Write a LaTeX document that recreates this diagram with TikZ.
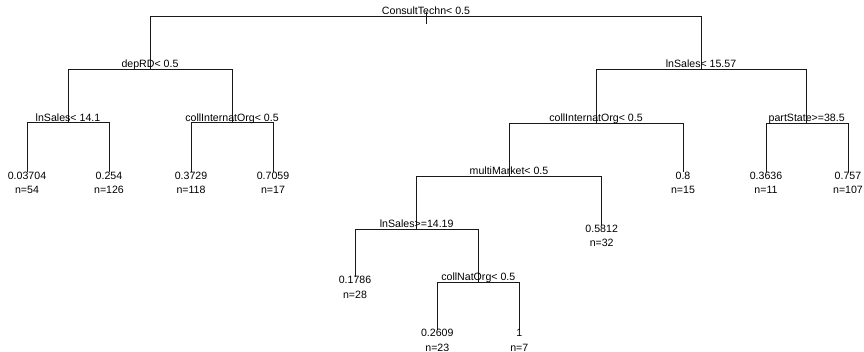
\documentclass[tikz,border=0pt]{standalone}
\usepackage{fontspec}
\setmainfont{Liberation Sans}
\usepackage{tikz}
\usetikzlibrary{positioning}

\begin{document}
\begin{tikzpicture}[
  x=1pt,y=-1pt,
  txt/.style={font=\fontsize{10.6}{12}\selectfont,inner sep=0pt,anchor=base},
  split/.style={txt,yshift=1.6pt},
  val/.style={txt,yshift=-7pt},
  cnt/.style={txt,yshift=-21.5pt},
  br/.style={line width=0.75pt,draw=black!90}
]
\useasboundingbox (0,0) rectangle (864,352);
% split points
\coordinate (root) at (426,16);
\coordinate (rtop) at (426,12.5); \coordinate (rbot) at (426,24);
\coordinate (dep) at (150,69);
\coordinate (ls1557) at (701,69);
\coordinate (ls141) at (68,122.7);
\coordinate (cioL) at (232,122.7);
\coordinate (cioR) at (596,123);
\coordinate (ps) at (806.7,123);
\coordinate (mm) at (509,176);
\coordinate (ls1419) at (416.7,229);
\coordinate (cno) at (478.3,282.5);
% leaves
\coordinate (lfA) at (27,172.5);  \coordinate (lfB) at (109,172.5);
\coordinate (lfC) at (191,172.5); \coordinate (lfD) at (273,172.5);
\coordinate (lfE) at (683,172.5); \coordinate (lfF) at (766,172.5);
\coordinate (lfG) at (848,172.5);
\coordinate (lfH) at (601.7,225.5);
\coordinate (lfI) at (355,277);
\coordinate (lfJ) at (437.3,330); \coordinate (lfK) at (519.3,330);
% branches
\draw[br] (rtop)--(rbot);
\draw[br] (root)-|(dep); \draw[br] (root)-|(ls1557);
\draw[br] (dep)-|(ls141); \draw[br] (dep)-|(cioL);
\draw[br] (ls141)-|(lfA); \draw[br] (ls141)-|(lfB);
\draw[br] (cioL)-|(lfC); \draw[br] (cioL)-|(lfD);
\draw[br] (ls1557)-|(cioR); \draw[br] (ls1557)-|(ps);
\draw[br] (cioR)-|(mm); \draw[br] (cioR)-|(lfE);
\draw[br] (ps)-|(lfF); \draw[br] (ps)-|(lfG);
\draw[br] (mm)-|(ls1419); \draw[br] (mm)-|(lfH);
\draw[br] (ls1419)-|(lfI); \draw[br] (ls1419)-|(cno);
\draw[br] (cno)-|(lfJ); \draw[br] (cno)-|(lfK);
% split labels
\node[split] (troot) at (root) {ConsultTechn< 0.5};
\node[split] (tdep) at (dep) {depRD< 0.5};
\node[split] (tls1557) at (ls1557) {lnSales< 15.57};
\node[split] (tls141) at (ls141) {lnSales< 14.1};
\node[split] (tcioL) at (cioL) {collInternatOrg< 0.5};
\node[split] (tcioR) at (cioR) {collInternatOrg< 0.5};
\node[split] (tps) at (ps) {partState>=38.5};
\node[split] (tmm) at (mm) {multiMarket< 0.5};
\node[split] (tls1419) at (ls1419) {lnSales>=14.19};
\node[split] (tcno) at (cno) {collNatOrg< 0.5};
% leaf labels
\node[val] (vA) at (lfA) {0.03704}; \node[cnt] (nA) at (lfA) {n=54};
\node[val] (vB) at (lfB) {0.254};   \node[cnt] (nB) at (lfB) {n=126};
\node[val] (vC) at (lfC) {0.3729};  \node[cnt] (nC) at (lfC) {n=118};
\node[val] (vD) at (lfD) {0.7059};  \node[cnt] (nD) at (lfD) {n=17};
\node[val] (vE) at (lfE) {0.8};     \node[cnt] (nE) at (lfE) {n=15};
\node[val] (vF) at (lfF) {0.3636};  \node[cnt] (nF) at (lfF) {n=11};
\node[val] (vG) at (lfG) {0.757};   \node[cnt] (nG) at (lfG) {n=107};
\node[val] (vH) at (lfH) {0.5812};  \node[cnt] (nH) at (lfH) {n=32};
\node[val] (vI) at (lfI) {0.1786};  \node[cnt] (nI) at (lfI) {n=28};
\node[val] (vJ) at (lfJ) {0.2609};  \node[cnt] (nJ) at (lfJ) {n=23};
\node[val] (vK) at (lfK) {1};       \node[cnt] (nK) at (lfK) {n=7};
\end{tikzpicture}
\end{document}
